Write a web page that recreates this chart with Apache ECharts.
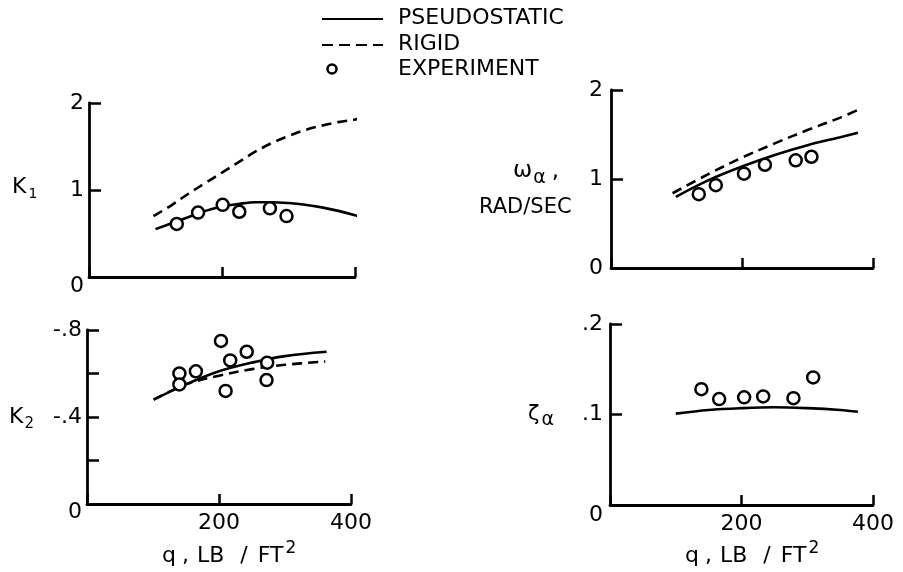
<!DOCTYPE html>
<html><head><meta charset="utf-8">
<script src="https://cdn.jsdelivr.net/npm/echarts@6/dist/echarts.min.js"></script>
<style>html,body{margin:0;padding:0;background:#fff}#c{width:903px;height:572px}</style>
</head><body><div id="c"></div>
<script>
// ---- Data ----
// K1 panel
const k1PseudoQ = [100,125,150,175,200,225,250,275,300,325,350,375,400,412];
const k1Pseudo  = [0.55,0.62,0.69,0.76,0.81,0.84,0.86,0.86,0.85,0.83,0.80,0.76,0.71,0.68];
const k1RigidQ  = [97,125,150,175,200,225,250,275,300,325,350,375,400,413];
const k1Rigid   = [0.70,0.83,0.96,1.08,1.20,1.32,1.44,1.54,1.62,1.69,1.74,1.78,1.81,1.83];
const k1ExpQ    = [132,164,201,226,272,297];
const k1Exp     = [0.61,0.74,0.83,0.75,0.79,0.70];
// omega panel
const wPseudoQ = [99,150,200,250,300,350,377];
const wPseudo  = [0.80,0.99,1.14,1.27,1.38,1.47,1.52];
const wRigidQ  = [94,150,200,250,300,350,381];
const wRigid   = [0.84,1.06,1.24,1.40,1.55,1.69,1.79];
const wExpQ    = [134,160,203,235,282,306];
const wExp     = [0.83,0.93,1.06,1.16,1.21,1.25];
// K2 panel
const k2PseudoQ = [101,150,200,250,300,363];
const k2Pseudo  = [-0.48,-0.55,-0.61,-0.65,-0.68,-0.70];
const k2RigidQ  = [101,150,200,250,300,361];
const k2Rigid   = [-0.48,-0.55,-0.59,-0.62,-0.64,-0.655];
const k2ExpQ    = [140,140,165,203,217,210,242,273,272];
const k2Exp     = [-0.60,-0.55,-0.61,-0.75,-0.66,-0.52,-0.70,-0.65,-0.57];
// zeta panel
const zPseudoQ = [100,150,200,250,300,350,377];
const zPseudo  = [0.101,0.105,0.107,0.108,0.107,0.105,0.103];
const zExpQ    = [139,166,204,233,279,309];
const zExp     = [0.128,0.117,0.119,0.120,0.118,0.141];
// tick labels
const xTickLabels = {200:'200', 400:'400'};
const k1TickLabels = {'0':'0', '1':'1', '2':'2'};
const wTickLabels = {'0':'0', '1':'1', '2':'2'};
const k2TickLabels = {'0':'0', '-0.4':'-.4', '-0.8':'-.8'};
const zTickLabels = {'0':'0', '0.1':'.1', '0.2':'.2'};
const legendLabels = ['PSEUDOSTATIC','RIGID','EXPERIMENT'];

const FONT = 'DejaVu Sans';
const pair = (xs, ys) => xs.map((x, i) => [x, ys[i]]);

const grids = [
  {left: 89, top: 103, width: 266, height: 174},
  {left: 611, top: 90, width: 262, height: 178},
  {left: 87, top: 330, width: 264, height: 174},
  {left: 610, top: 324, width: 263, height: 181}
];

function xAxis(gi, showLabels) {
  return {
    type: 'value', gridIndex: gi, min: 0, max: 400, interval: 200,
    splitLine: {show: false},
    axisLine: {show: true, onZero: false, lineStyle: {color: '#000', width: 2.8}},
    axisTick: {show: true, inside: true, length: 10, lineStyle: {color: '#000', width: 2.5}},
    axisLabel: {show: showLabels, color: '#000', fontFamily: FONT, fontSize: 22, margin: 8,
      formatter: v => xTickLabels[v] || ''}
  };
}
function yAxis(gi, min, max, interval, labels, inverse, margin, zeroDrop) {
  return {
    type: 'value', gridIndex: gi, min: min, max: max, interval: interval, inverse: !!inverse,
    splitLine: {show: false},
    axisLine: {show: true, onZero: false, lineStyle: {color: '#000', width: 2.8}},
    axisTick: {show: true, inside: true, length: 12, lineStyle: {color: '#000', width: 2.5}},
    axisLabel: {show: true, color: '#000', fontFamily: FONT, fontSize: 22, margin: margin,
      rich: {low: {fontFamily: FONT, fontSize: 22, color: '#000', padding: [zeroDrop, 0, 0, 0]}},
      formatter: v => {
        const k = String(Math.round(v * 10) / 10);
        if (labels[k] === undefined) return '';
        return (k === '0' && zeroDrop) ? '{low|' + labels[k] + '}' : labels[k];
      }}
  };
}
function solid(gi, xs, ys) {
  return {type: 'line', xAxisIndex: gi, yAxisIndex: gi, data: pair(xs, ys), smooth: 0.35,
    symbol: 'none', lineStyle: {color: '#000', width: 2.6}, silent: true, z: 3};
}
function dashed(gi, xs, ys) {
  return {type: 'line', xAxisIndex: gi, yAxisIndex: gi, data: pair(xs, ys), smooth: 0.35,
    symbol: 'none', lineStyle: {color: '#000', width: 2.6, type: [10, 6]}, silent: true, z: 2};
}
function exp(gi, xs, ys) {
  return {type: 'scatter', xAxisIndex: gi, yAxisIndex: gi, data: pair(xs, ys),
    symbol: 'circle', symbolSize: 12,
    itemStyle: {color: '#fff', borderColor: '#000', borderWidth: 2.5, opacity: 1}, z: 5};
}

const txt = (left, top, text, size) => ({
  type: 'text', left: left, top: top,
  style: {text: text, fill: '#000', font: size + 'px "' + FONT + '"'}
});
const rich = (left, top, text, richDef) => ({
  type: 'text', left: left, top: top,
  style: {text: text, fill: '#000', fontFamily: FONT, rich: richDef}
});
const qRich = {
  q:  {fontSize: 22, fontFamily: FONT},
  c:  {fontSize: 22, fontFamily: FONT, padding: [0, 0, 0, 6]},
  lb: {fontSize: 22, fontFamily: FONT, padding: [0, 0, 0, 8]},
  sl: {fontSize: 22, fontFamily: FONT, padding: [0, 0, 0, 16]},
  ft: {fontSize: 22, fontFamily: FONT, padding: [0, 0, 0, 10]},
  p:  {fontSize: 17, fontFamily: FONT, padding: [0, 0, 16, 2]}
};
const qText = '{q|q}{c|,}{lb|LB}{sl|/}{ft|FT}{p|2}';

const option = {
  backgroundColor: '#fff',
  animation: false,
  grid: grids,
  xAxis: [xAxis(0, false), xAxis(1, false), xAxis(2, true), xAxis(3, true)],
  yAxis: [
    yAxis(0, 0, 2, 1, k1TickLabels, false, 5, 18),
    yAxis(1, 0, 2, 1, wTickLabels, false, 8, 0),
    yAxis(2, -0.8, 0, 0.2, k2TickLabels, true, 5, 16),
    yAxis(3, 0, 0.2, 0.1, zTickLabels, false, 7, 20)
  ],
  series: [
    dashed(0, k1RigidQ, k1Rigid), solid(0, k1PseudoQ, k1Pseudo), exp(0, k1ExpQ, k1Exp),
    dashed(1, wRigidQ, wRigid), solid(1, wPseudoQ, wPseudo), exp(1, wExpQ, wExp),
    dashed(2, k2RigidQ, k2Rigid), solid(2, k2PseudoQ, k2Pseudo), exp(2, k2ExpQ, k2Exp),
    solid(3, zPseudoQ, zPseudo), exp(3, zExpQ, zExp)
  ],
  graphic: [
    // legend
    {type: 'line', shape: {x1: 322, y1: 19, x2: 383, y2: 19}, style: {stroke: '#000', lineWidth: 2.2}},
    {type: 'line', shape: {x1: 322, y1: 45, x2: 383, y2: 45}, style: {stroke: '#000', lineWidth: 2.2, lineDash: [11, 6]}},
    {type: 'circle', shape: {cx: 332, cy: 69, r: 4.5}, style: {fill: '#fff', stroke: '#000', lineWidth: 2.5}},
    txt(398, 7, legendLabels[0], 22),
    txt(398, 33, legendLabels[1], 22),
    txt(398, 58, legendLabels[2], 22),
    // y axis titles
    rich(12, 176, '{b|K}{s|1}', {b: {fontSize: 22, fontFamily: FONT}, s: {fontSize: 14, fontFamily: FONT, padding: [14, 0, 0, 2]}}),
    rich(9, 406, '{b|K}{s|2}', {b: {fontSize: 22, fontFamily: FONT}, s: {fontSize: 15, fontFamily: FONT, padding: [14, 0, 0, 1]}}),
    rich(513, 160, '{b|ω}{s|α}{c|,}', {b: {fontSize: 23, fontFamily: FONT}, s: {fontSize: 19, fontFamily: FONT, padding: [14, 0, 0, 1]}, c: {fontSize: 23, fontFamily: FONT, padding: [0, 0, 0, 6]}}),
    txt(479, 197, 'RAD/SEC', 21),
    rich(528, 404, '{b|ζ}{s|α}', {b: {fontSize: 21, fontFamily: FONT}, s: {fontSize: 19, fontFamily: FONT, padding: [12, 0, 0, 2]}}),
    // x axis titles
    rich(162, 540, qText, qRich),
    rich(685, 540, qText, qRich)
  ]
};
const chart = echarts.init(document.getElementById('c'), null, {renderer: 'canvas'});
chart.setOption(option);
</script></body></html>
